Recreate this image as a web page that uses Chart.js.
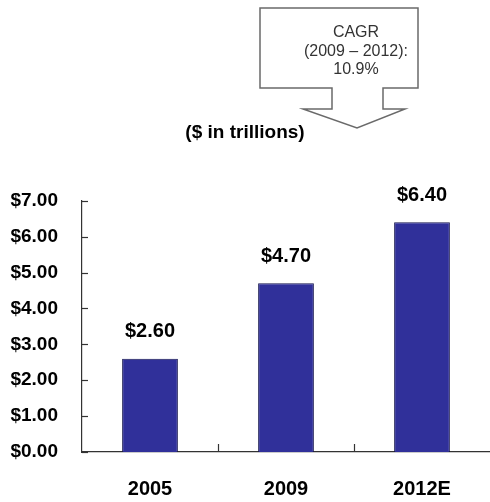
<!DOCTYPE html>
<html>
<head>
<meta charset="utf-8">
<script src="https://cdn.jsdelivr.net/npm/chart.js@4.4.1/dist/chart.umd.min.js"></script>
<style>
html,body{margin:0;padding:0;background:#fff;}
canvas{display:block;}
</style>
</head>
<body>
<canvas id="c" width="490" height="502"></canvas>
<script>
const categories = ['2005', '2009', '2012E'];
const values = [2.60, 4.70, 6.40];
const yTicks = [0, 1, 2, 3, 4, 5, 6, 7];
const unitTitle = '($ in trillions)';
const calloutLines = ['CAGR', '(2009 \u2013 2012):', '10.9%'];

const FONT = "'Liberation Sans', Arial, sans-serif";
const money = v => '$' + Number(v).toFixed(2);

const decor = {
  id: 'decor',
  beforeDraw(chart) {
    const ctx = chart.ctx;
    ctx.save();
    ctx.fillStyle = '#fff';
    ctx.fillRect(0, 0, chart.width, chart.height);
    // callout shape
    ctx.beginPath();
    ctx.moveTo(260, 8);
    ctx.lineTo(418, 8);
    ctx.lineTo(418, 88);
    ctx.lineTo(383, 88);
    ctx.lineTo(383, 109);
    ctx.lineTo(405, 109);
    ctx.lineTo(357, 128);
    ctx.lineTo(303, 109);
    ctx.lineTo(332, 109);
    ctx.lineTo(332, 88);
    ctx.lineTo(260, 88);
    ctx.closePath();
    ctx.fillStyle = '#ffffff';
    ctx.fill();
    ctx.strokeStyle = '#6a6a6a';
    ctx.lineWidth = 1.5;
    ctx.stroke();
    ctx.fillStyle = '#333';
    ctx.font = '16px ' + FONT;
    ctx.textAlign = 'center';
    ctx.textBaseline = 'middle';
    calloutLines.forEach((t, i) => ctx.fillText(t, 356, 33 + i * 18.5));
    ctx.restore();
  },
  afterDraw(chart) {
    const ctx = chart.ctx;
    const xs = chart.scales.x, ys = chart.scales.y;
    ctx.save();
    ctx.strokeStyle = '#333';
    ctx.lineWidth = 1.2;
    // inward y ticks
    yTicks.forEach(v => {
      const y = Math.round(ys.getPixelForValue(v)) + 0.5;
      ctx.beginPath();
      ctx.moveTo(xs.left, y);
      ctx.lineTo(xs.left + 6, y);
      ctx.stroke();
    });
    // inward x ticks at category boundaries
    for (let i = 0; i < categories.length - 1; i++) {
      const x = Math.round((xs.getPixelForValue(i) + xs.getPixelForValue(i + 1)) / 2) + 0.5;
      ctx.beginPath();
      ctx.moveTo(x, ys.bottom);
      ctx.lineTo(x, ys.bottom - 8);
      ctx.stroke();
    }
    // value labels
    ctx.fillStyle = '#000';
    ctx.font = 'bold 20px ' + FONT;
    ctx.textAlign = 'center';
    ctx.textBaseline = 'middle';
    chart.getDatasetMeta(0).data.forEach((bar, i) => {
      ctx.fillText(money(values[i]), bar.x, bar.y - 27);
    });
    ctx.restore();
  }
};

new Chart(document.getElementById('c'), {
  type: 'bar',
  data: {
    labels: categories,
    datasets: [{
      data: values,
      backgroundColor: '#30309a',
      borderColor: '#15154f',
      borderWidth: 1,
      categoryPercentage: 1,
      barPercentage: 0.41
    }]
  },
  options: {
    responsive: false,
    animation: false,
    layout: { padding: { top: 0, left: 0, right: 0, bottom: 0 } },
    plugins: {
      legend: { display: false },
      tooltip: { enabled: false },
      title: {
        display: true,
        text: unitTitle,
        color: '#000',
        font: { family: FONT, size: 19, weight: 'bold' },
        padding: { top: 121, bottom: 57 }
      }
    },
    scales: {
      x: {
        grid: { display: false, drawTicks: false },
        border: { display: true, color: '#333', width: 1.2 },
        ticks: { color: '#000', padding: 25, font: { family: FONT, size: 20, weight: 'bold' } },
        afterFit(s) { s.height = 50; }
      },
      y: {
        min: 0, max: 7,
        grid: { display: false, drawTicks: false },
        border: { display: true, color: '#333', width: 1.2 },
        afterBuildTicks(s) { s.ticks = yTicks.map(v => ({ value: v })); },
        ticks: {
          color: '#000', padding: 24,
          font: { family: FONT, size: 19, weight: 'bold' },
          callback: v => money(v)
        },
        afterFit(s) { s.width = 82; }
      }
    }
  },
  plugins: [decor]
});
</script>
</body>
</html>
